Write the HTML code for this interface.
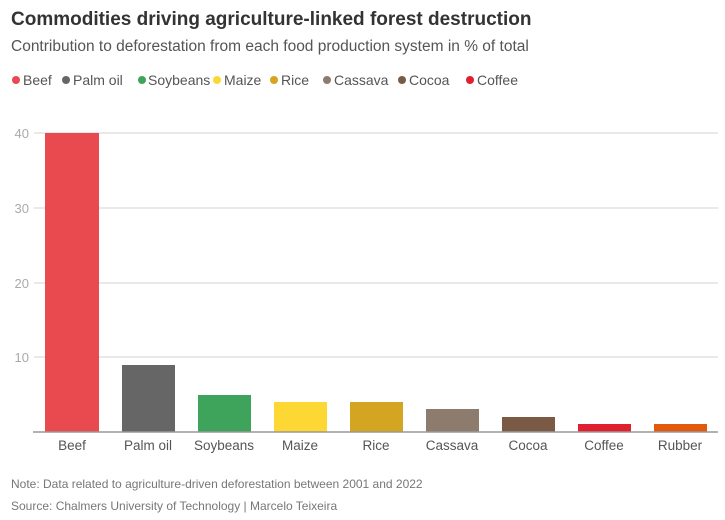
<!DOCTYPE html>
<html><head><meta charset="utf-8"><style>
body{margin:0;background:#fff;width:725px;height:515px;overflow:hidden;font-family:"Liberation Sans",sans-serif}
</style></head><body>
<svg width="725" height="515" xmlns="http://www.w3.org/2000/svg" font-family="Liberation Sans, sans-serif">
<text x="11" y="25" font-size="19" font-weight="bold" fill="#333">Commodities driving agriculture-linked forest destruction</text>
<text x="11" y="51" font-size="15.5" fill="#555">Contribution to deforestation from each food production system in % of total</text>
<g font-size="14" fill="#555">
<circle cx="16" cy="80" r="4" fill="#e84a50"/><text x="23" y="85">Beef</text>
<circle cx="66" cy="80" r="4" fill="#666"/><text x="73" y="85">Palm oil</text>
<circle cx="142" cy="80" r="4" fill="#3fa45b"/><text x="148" y="85">Soybeans</text>
<circle cx="217" cy="80" r="4" fill="#fdd835"/><text x="224" y="85">Maize</text>
<circle cx="274" cy="80" r="4" fill="#d4a520"/><text x="281" y="85">Rice</text>
<circle cx="327" cy="80" r="4" fill="#8d7b6d"/><text x="334" y="85">Cassava</text>
<circle cx="402" cy="80" r="4" fill="#7a5a45"/><text x="409" y="85">Cocoa</text>
<circle cx="470" cy="80" r="4" fill="#e0202e"/><text x="477" y="85">Coffee</text>
</g>
<g stroke="#e2e2e2" stroke-width="1.5">
<line x1="34" y1="133" x2="718" y2="133"/><line x1="34" y1="208" x2="718" y2="208"/>
<line x1="34" y1="283" x2="718" y2="283"/><line x1="34" y1="357" x2="718" y2="357"/>
</g>
<g font-size="13" fill="#aaa" text-anchor="end">
<text x="29" y="138">40</text><text x="29" y="213">30</text><text x="29" y="288">20</text><text x="29" y="362">10</text>
</g>
<rect x="45" y="133" width="54" height="299" fill="#e84a50"/>
<rect x="122" y="365" width="53" height="67" fill="#666"/>
<rect x="198" y="395" width="53" height="37" fill="#3fa45b"/>
<rect x="274" y="402" width="53" height="30" fill="#fdd835"/>
<rect x="350" y="402" width="53" height="30" fill="#d4a520"/>
<rect x="426" y="409" width="53" height="23" fill="#8d7b6d"/>
<rect x="502" y="417" width="53" height="15" fill="#7a5a45"/>
<rect x="578" y="424" width="53" height="8" fill="#e0202e"/>
<rect x="654" y="424" width="53" height="8" fill="#e2580d"/>
<line x1="33" y1="432" x2="718" y2="432" stroke="#999" stroke-width="1.5"/>
<g font-size="13.5" fill="#555" text-anchor="middle">
<text x="72" y="450">Beef</text><text x="148" y="450">Palm oil</text><text x="224" y="450">Soybeans</text>
<text x="300" y="450">Maize</text><text x="376" y="450">Rice</text><text x="452" y="450">Cassava</text>
<text x="528" y="450">Cocoa</text><text x="604" y="450">Coffee</text><text x="680" y="450">Rubber</text>
</g>
<text x="11" y="488" font-size="12" fill="#777">Note: Data related to agriculture-driven deforestation between 2001 and 2022</text>
<text x="11" y="510" font-size="12" fill="#777">Source: Chalmers University of Technology | Marcelo Teixeira</text>
</svg>
</body></html>
